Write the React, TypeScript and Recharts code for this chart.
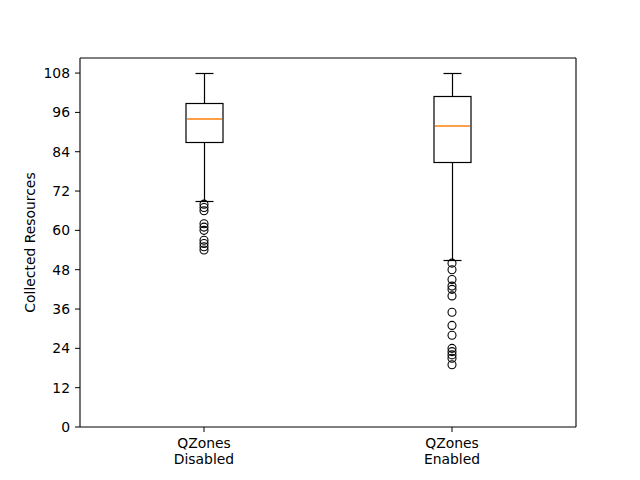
import React from 'react';
import {
  ComposedChart,
  Bar,
  Scatter,
  XAxis,
  YAxis,
} from 'recharts';

const categories = ['QZones\nDisabled', 'QZones\nEnabled'];
const whiskerLow = [69, 51];
const q1 = [87, 81];
const median = [94, 92];
const q3 = [99, 101];
const whiskerHigh = [108, 108];
const outliersDisabled = [68, 67, 66, 62, 61, 60, 57, 56, 55, 54];
const outliersEnabled = [50, 48, 45, 43, 42, 40, 35, 31, 28, 24, 23, 22, 21, 19];
const yTicks = [0, 12, 24, 36, 48, 60, 72, 84, 96, 108];

const FONT = '"DejaVu Sans", sans-serif';

const boxData = categories.map((name, i) => ({
  name,
  range: [whiskerLow[i], whiskerHigh[i]],
  low: whiskerLow[i],
  q1: q1[i],
  median: median[i],
  q3: q3[i],
  high: whiskerHigh[i],
}));

const outlierData = [
  ...outliersDisabled.map((value) => ({ name: categories[0], value })),
  ...outliersEnabled.map((value) => ({ name: categories[1], value })),
];

// snap to pixel centre so 1px lines stay crisp
const snap = (v: number) => Math.round(v) + 0.5;

const BoxShape = (props: any) => {
  const { x, y, width, height } = props;
  const p = props.payload ?? props;
  const top = Math.min(y, y + height);
  const h = Math.abs(height);
  const raw = (v: number) => top + ((p.high - v) / (p.high - p.low)) * h;
  const toPx = (v: number) => snap(raw(v));
  const cx = snap(x + width / 2);
  const boxW = 37;
  const capW = 18;
  const yHigh = toPx(p.high);
  const yLow = toPx(p.low);
  const yQ3 = toPx(p.q3);
  const yQ1 = toPx(p.q1);
  const yMed = Math.round(raw(p.median));
  return (
    <g>
      <line x1={cx} x2={cx} y1={yHigh} y2={yQ3} stroke="#000" strokeWidth={1.2} />
      <line x1={cx} x2={cx} y1={yQ1} y2={yLow} stroke="#000" strokeWidth={1.2} />
      <line x1={cx - capW / 2} x2={cx + capW / 2} y1={yHigh} y2={yHigh} stroke="#000" strokeWidth={1.2} />
      <line x1={cx - capW / 2} x2={cx + capW / 2} y1={yLow} y2={yLow} stroke="#000" strokeWidth={1.2} />
      <rect x={cx - boxW / 2} y={yQ3} width={boxW} height={yQ1 - yQ3} fill="none" stroke="#000" strokeWidth={1.2} />
      <line x1={cx - boxW / 2 + 1} x2={cx + boxW / 2 - 1} y1={yMed} y2={yMed} stroke="#ff7f0e" strokeWidth={1.6} />
    </g>
  );
};

const Flier = (props: any) => (
  <circle cx={props.cx} cy={props.cy} r={4} fill="none" stroke="#000" strokeWidth={1.1} />
);

const CategoryTick = (props: any) => {
  const { x, y, payload } = props;
  const lines = String(payload.value).split('\n');
  return (
    <text x={x} y={y} textAnchor="middle" fill="#000" fontSize={13.9} fontFamily={FONT}>
      {lines.map((line, i) => (
        <tspan key={i} x={x} dy={i === 0 ? '0.76em' : 16}>
          {line}
        </tspan>
      ))}
    </text>
  );
};

export default function App() {
  return (
    <div style={{ position: 'absolute', left: 0, top: 0, width: 640, height: 480, background: '#fff' }}>
      <ComposedChart
        width={640}
        height={480}
        data={boxData}
        margin={{ top: 57, right: 63, bottom: 0, left: 0 }}
      >
        <XAxis
          dataKey="name"
          type="category"
          allowDuplicatedCategory={false}
          height={53}
          tick={<CategoryTick />}
          tickSize={5}
          tickMargin={5}
          tickLine={{ stroke: '#000' }}
          axisLine={{ stroke: '#000', strokeWidth: 1.1 }}
        />
        <XAxis
          xAxisId="top"
          dataKey="name"
          orientation="top"
          allowDuplicatedCategory={false}
          height={1}
          tick={false}
          tickLine={false}
          axisLine={{ stroke: '#000', strokeWidth: 1.1 }}
        />
        <YAxis
          type="number"
          domain={[0, 112.6]}
          ticks={yTicks}
          width={80}
          tickSize={5}
          tickMargin={5}
          interval={0}
          tick={{ fill: '#000', fontSize: 13.9, fontFamily: FONT }}
          tickLine={{ stroke: '#000' }}
          axisLine={{ stroke: '#000', strokeWidth: 1.1 }}
          label={{
            value: 'Collected Resources',
            angle: -90,
            position: 'insideLeft',
            offset: 30,
            style: { textAnchor: 'middle', fill: '#000', fontSize: 13.9, fontFamily: FONT },
          }}
        />
        <YAxis
          yAxisId="right"
          orientation="right"
          type="number"
          domain={[0, 112.6]}
          width={1}
          tick={false}
          tickLine={false}
          axisLine={{ stroke: '#000', strokeWidth: 1.1 }}
        />
        <Bar dataKey="range" shape={<BoxShape />} isAnimationActive={false} />
        <Scatter data={outlierData} dataKey="value" shape={<Flier />} isAnimationActive={false} />
      </ComposedChart>
    </div>
  );
}
